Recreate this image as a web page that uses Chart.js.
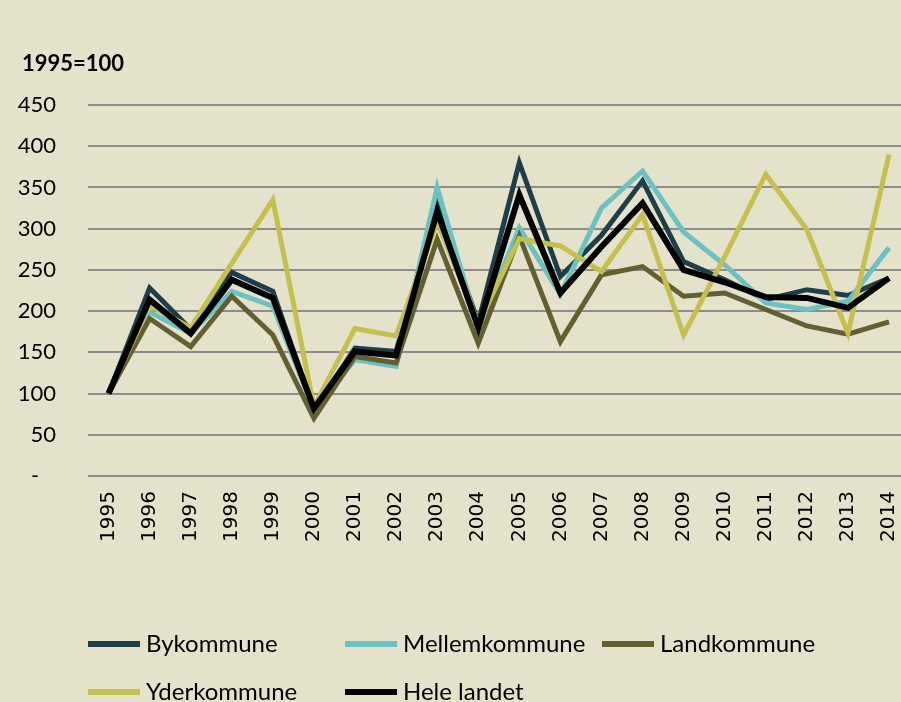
<!DOCTYPE html>
<html lang="da">
<head>
    <meta charset="UTF-8">
    <title>Indeks 1995=100</title>
    <script src="https://cdn.jsdelivr.net/npm/chart.js"></script>
    <style>
        html, body { margin: 0; padding: 0; overflow: hidden; background: #e5e2cc; }
        #wrap { position: absolute; left: 0; top: 0; width: 928px; height: 702px; }
    </style>
</head>
<body>
    <div id="wrap">
        <canvas id="chart" width="928" height="702"></canvas>
    </div>

    <script>
        // Data (1995 = 100)
        const years = ['1995', '1996', '1997', '1998', '1999', '2000', '2001', '2002', '2003', '2004',
                       '2005', '2006', '2007', '2008', '2009', '2010', '2011', '2012', '2013', '2014'];
        const bykommune     = [100, 228, 178, 247, 224, 80, 155, 151, 329, 186, 380, 242, 292, 358, 260, 238, 214, 226, 219, 240];
        const mellemkommune = [100, 199, 173, 224, 206, 80, 141, 133, 350, 179, 301, 220, 325, 370, 296, 256, 210, 202, 212, 277];
        const landkommune   = [100, 191, 157, 218, 171, 70, 145, 137, 287, 161, 291, 163, 244, 254, 218, 222, 202, 182, 172, 187];
        const yderkommune   = [100, 207, 180, 258, 335, 84, 179, 170, 308, 185, 288, 279, 248, 317, 171, 266, 366, 299, 173, 390];
        const heleLandet    = [100, 214, 173, 238, 216, 82, 151, 146, 321, 180, 341, 222, 278, 331, 250, 235, 217, 216, 204, 240];
        const yTicks = [0, 50, 100, 150, 200, 250, 300, 350, 400, 450];

        const seriesNames = ['Bykommune', 'Mellemkommune', 'Landkommune', 'Yderkommune', 'Hele landet'];
        const seriesColors = ['#1c3f4a', '#6ac3c2', '#625f30', '#c5c04e', '#000000'];

        // legend in fixed columns like the original, plus the axis caption
        const extras = {
            id: 'extras',
            afterDraw(chart) {
                const ctx = chart.ctx;
                ctx.save();
                ctx.fillStyle = '#000';
                ctx.font = 'bold 22px Lato';
                ctx.textAlign = 'left';
                ctx.textBaseline = 'alphabetic';
                ctx.fillText('1995=100', 22, 71);

                const cols = [88, 345, 602];
                const rows = [644, 692];
                ctx.font = '24px Lato';
                chart.data.datasets.forEach((ds, i) => {
                    const x = cols[i % 3];
                    const y = rows[Math.floor(i / 3)];
                    ctx.fillStyle = ds.borderColor;
                    ctx.fillRect(x, y - 3, 52, 6);
                    ctx.fillStyle = '#000';
                    ctx.fillText(ds.label, x + 58, y + 8);
                });
                ctx.restore();
            }
        };

        const allSeries = [bykommune, mellemkommune, landkommune, yderkommune, heleLandet];
        const widths = [5, 5, 5, 5, 6];

        new Chart(document.getElementById('chart').getContext('2d'), {
            type: 'line',
            data: {
                labels: years,
                datasets: allSeries.map((d, i) => ({
                    label: seriesNames[i],
                    data: d,
                    borderColor: seriesColors[i],
                    backgroundColor: seriesColors[i],
                    borderWidth: widths[i],
                    pointRadius: 0,
                    tension: 0,
                    fill: false,
                    order: 4 - i
                }))
            },
            options: {
                responsive: false,
                animation: false,
                layout: { padding: { left: 0, right: 0, top: 105, bottom: 126 } },
                plugins: {
                    legend: { display: false },
                    tooltip: { enabled: false }
                },
                scales: {
                    x: {
                        offset: true,
                        grid: { display: false, drawTicks: false },
                        border: { display: false },
                        ticks: {
                            color: '#000',
                            font: { family: 'DejaVu Sans', size: 20 },
                            minRotation: 90,
                            maxRotation: 90,
                            padding: 15,
                            autoSkip: false
                        },
                        afterFit(scale) { scale.height = 100; }
                    },
                    y: {
                        min: 0,
                        max: 450,
                        afterBuildTicks(scale) { scale.ticks = yTicks.map(v => ({ value: v })); },
                        grid: { color: '#8c8c8c', lineWidth: 2, drawTicks: false },
                        border: { display: false },
                        ticks: {
                            color: '#000',
                            font: { family: 'Lato', size: 22 },
                            padding: 32,
                            callback: v => v === 0 ? '-   ' : v
                        },
                        afterFit(scale) { scale.width = 88; }
                    }
                }
            },
            plugins: [extras]
        });
    </script>
</body>
</html>
